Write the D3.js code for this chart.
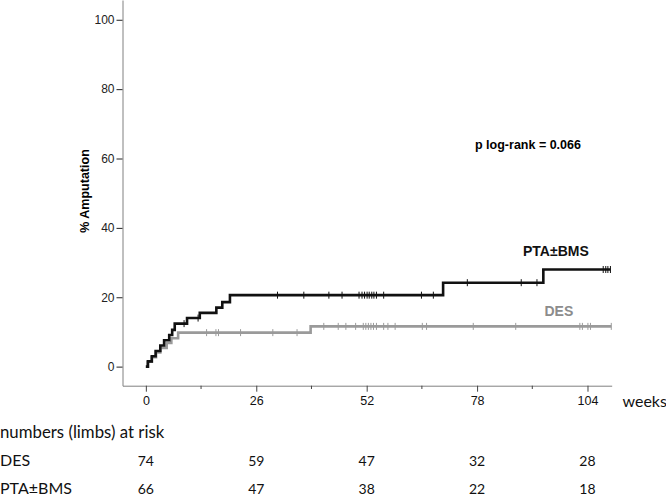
<!DOCTYPE html>
<html lang="en">
<head>
    <meta charset="UTF-8">
    <title>Amputation - Kaplan-Meier</title>
    <style>
        body {
            margin: 0;
            padding: 0;
            background: #ffffff;
            overflow: hidden;
        }
        .ax text {
            font-family: "Liberation Sans", Arial, sans-serif;
        }
        .risk {
            font-family: Lato, "Noto Sans", sans-serif;
            fill: #111;
        }
    </style>
    <script src="https://d3js.org/d3.v7.min.js"></script>
</head>
<body>
    <div id="chart"></div>

    <script>
        // tick values
        const weekTicks = [0, 26, 52, 78, 104];
        const minorTicks = [13, 39, 65, 91];
        const pctTicks = [0, 20, 40, 60, 80, 100];

        // step curves (week of event, cumulative % amputation after it)
        const ptaTimes = [0, 0.5, 1.4, 2.3, 3.4, 4.3, 5.5, 6.2, 6.8, 9.7, 12.7, 16.6, 18.0, 19.8, 70.0, 93.6, 109.4];
        const ptaValues = [0, 1.5, 3.0, 4.5, 6.1, 7.6, 9.1, 10.6, 12.4, 14.0, 15.5, 17.0, 18.6, 20.6, 24.2, 28.0, 28.0];
        const desTimes = [0, 0.4, 1.4, 2.4, 3.4, 4.9, 6.0, 7.6, 38.8, 109.6];
        const desValues = [0, 1.4, 2.7, 4.1, 5.4, 6.8, 8.2, 9.8, 11.6, 11.6];

        // censored observations (weeks)
        const ptaCensor = [9.0, 12.3, 31.0, 37.2, 43.1, 46.2, 50.2, 50.9, 51.5, 52.1, 52.6, 53.2, 53.7, 54.3, 56.0, 64.9, 67.7, 75.7, 88.4, 92.1, 107.7, 108.3, 108.8, 109.4];
        const desCensor = [14.3, 16.5, 17.1, 22.3, 29.9, 35.6, 41.9, 45.3, 47.1, 49.4, 51.2, 51.8, 52.4, 53.0, 53.6, 54.3, 56.0, 57.0, 58.7, 65.1, 66.1, 77.1, 87.1, 102.2, 102.8, 104.1, 104.7, 109.6];

        // numbers at risk
        const riskWeeks = [0, 26, 52, 78, 104];
        const desRisk = [74, 59, 47, 32, 28];
        const ptaRisk = [66, 47, 38, 22, 18];

        const width = 666;
        const height = 496;

        const svg = d3.select("#chart")
            .append("svg")
            .attr("width", width)
            .attr("height", height);

        const x = d3.scaleLinear().domain([-5.5, 109.7]).range([122.5, 611.7]);
        const y = d3.scaleLinear().domain([-5.5, 105.7]).range([385.7, 0]);

        // axes
        const yAxis = svg.append("g")
            .attr("class", "ax")
            .attr("transform", "translate(122.5,0)")
            .call(d3.axisLeft(y).tickValues(pctTicks).tickSize(6).tickSizeOuter(0).tickPadding(2));
        yAxis.select(".domain").attr("stroke", "#808080");
        yAxis.selectAll(".tick line").attr("stroke", "#222");
        yAxis.selectAll(".tick text").attr("font-size", "12px").attr("fill", "#222");

        const xAxis = svg.append("g")
            .attr("class", "ax")
            .attr("transform", "translate(0,385.7)")
            .call(d3.axisBottom(x).tickValues(weekTicks).tickSize(6).tickSizeOuter(0).tickPadding(4));
        xAxis.select(".domain").attr("stroke", "#808080");
        xAxis.selectAll(".tick line").attr("stroke", "#444");
        xAxis.selectAll(".tick text")
            .attr("class", "risk")
            .attr("font-size", "12.5px");

        svg.append("g")
            .selectAll("line")
            .data(minorTicks)
            .join("line")
            .attr("x1", d => x(d))
            .attr("x2", d => x(d))
            .attr("y1", 385.7)
            .attr("y2", 389)
            .attr("stroke", "#444");

        svg.append("text")
            .attr("transform", "translate(89,191) rotate(-90)")
            .attr("text-anchor", "middle")
            .style("font-family", "'Liberation Sans', Arial, sans-serif")
            .style("font-weight", "bold")
            .style("font-size", "12.5px")
            .text("% Amputation");

        // curves
        const line = d3.line()
            .x(d => x(d[0]))
            .y(d => y(d[1]))
            .curve(d3.curveStepAfter);

        const stepAt = (times, values, t) => values[d3.bisectRight(times, t) - 1];

        const series = [
            { times: desTimes, values: desValues, censor: desCensor, color: "#9a9a9a" },
            { times: ptaTimes, values: ptaValues, censor: ptaCensor, color: "#111111" }
        ];

        series.forEach(s => {
            svg.append("path")
                .datum(d3.zip(s.times, s.values))
                .attr("fill", "none")
                .attr("stroke", s.color)
                .attr("stroke-width", 2.6)
                .attr("d", line);

            svg.append("g")
                .selectAll("line")
                .data(s.censor)
                .join("line")
                .attr("x1", d => x(d))
                .attr("x2", d => x(d))
                .attr("y1", d => y(stepAt(s.times, s.values, d)) - 3.5)
                .attr("y2", d => y(stepAt(s.times, s.values, d)) + 3.5)
                .attr("stroke", s.color)
                .attr("stroke-width", 1);
        });

        // annotations
        const bold = sel => sel
            .style("font-family", "'Liberation Sans', Arial, sans-serif")
            .style("font-weight", "bold");

        svg.append("text").call(bold)
            .attr("x", 475).attr("y", 149)
            .style("font-size", "12.5px")
            .text("p log-rank = 0.066");

        svg.append("text").call(bold)
            .attr("x", 523).attr("y", 256)
            .style("font-size", "14px")
            .attr("fill", "#111")
            .text("PTA±BMS");

        svg.append("text").call(bold)
            .attr("x", 544.5).attr("y", 316)
            .style("font-size", "14px")
            .attr("fill", "#8c8c8c")
            .text("DES");

        // numbers at risk table
        svg.append("text").attr("class", "risk")
            .attr("x", 622.5).attr("y", 406.5)
            .style("font-size", "16px")
            .text("weeks");

        svg.append("text").attr("class", "risk")
            .attr("x", 0).attr("y", 438)
            .style("font-size", "16.8px")
            .text("numbers (limbs) at risk");

        const rows = [
            { label: "DES", values: desRisk, base: 465.5 },
            { label: "PTA±BMS", values: ptaRisk, base: 493.5 }
        ];

        rows.forEach(r => {
            svg.append("text").attr("class", "risk")
                .attr("x", 0).attr("y", r.base)
                .style("font-size", "16px")
                .text(r.label);

            svg.append("g")
                .selectAll("text")
                .data(r.values)
                .join("text")
                .attr("class", "risk")
                .attr("x", (d, i) => x(riskWeeks[i]))
                .attr("y", r.base)
                .attr("text-anchor", "middle")
                .style("font-size", "14px")
                .text(d => d);
        });
    </script>
</body>
</html>
